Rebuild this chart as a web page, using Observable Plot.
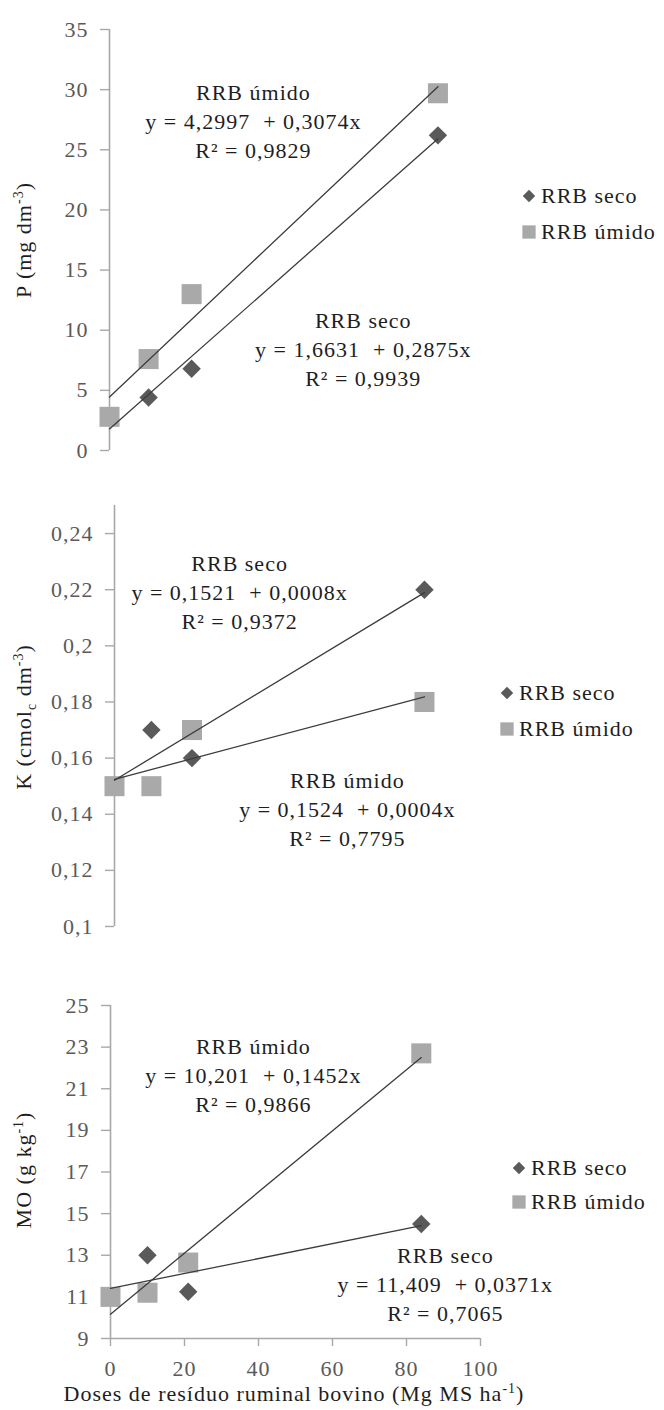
<!DOCTYPE html>
<html><head><meta charset="utf-8">
<script src="https://cdn.jsdelivr.net/npm/d3@7"></script>
<script src="https://cdn.jsdelivr.net/npm/@observablehq/plot@0.6"></script>
<style>
html,body{margin:0;padding:0;background:#fff;}
#chart{position:relative;width:664px;height:1410px;overflow:hidden;}
#chart svg{position:absolute;left:0;}
#chart svg text, #chart svg tspan{white-space:pre;font-family:"Liberation Serif","Times New Roman","DejaVu Serif",serif !important;}
</style></head><body><div id="chart"></div>
<script>
// ---- data ----
const doses = [0, 10, 21, 84];
const seriesNames = ["RRB seco", "RRB úmido"];
const pSeco = [2.8, 4.4, 6.8, 26.2];
const pUmido = [2.8, 7.6, 13.0, 29.7];
const kSeco = [0.15, 0.17, 0.16, 0.22];
const kUmido = [0.15, 0.15, 0.17, 0.18];
const moSeco = [11.0, 13.0, 11.25, 14.5];
const moUmido = [11.0, 11.2, 12.65, 22.7];
const pTicks = [0, 5, 10, 15, 20, 25, 30, 35];
const pTickLabels = ["0", "5", "10", "15", "20", "25", "30", "35"];
const kTicks = [0.1, 0.12, 0.14, 0.16, 0.18, 0.2, 0.22, 0.24];
const kTickLabels = ["0,1", "0,12", "0,14", "0,16", "0,18", "0,2", "0,22", "0,24"];
const moTicks = [9, 11, 13, 15, 17, 19, 21, 23, 25];
const moTickLabels = ["9", "11", "13", "15", "17", "19", "21", "23", "25"];
const xTicks = [0, 20, 40, 60, 80, 100];
const xTickLabels = ["0", "20", "40", "60", "80", "100"];
const pAnnots = [
  {x: 36.8, y: 27.5, text: "RRB úmido\ny = 4,2997  + 0,3074x\nR² = 0,9829"},
  {x: 64.9, y: 8.56, text: "RRB seco\ny = 1,6631  + 0,2875x\nR² = 0,9939"}
];
const kAnnots = [
  {x: 33.9, y: 0.2197, text: "RRB seco\ny = 0,1521  + 0,0008x\nR² = 0,9372"},
  {x: 63.1, y: 0.1424, text: "RRB úmido\ny = 0,1524  + 0,0004x\nR² = 0,7795"}
];
const moAnnots = [
  {x: 38.6, y: 21.74, text: "RRB úmido\ny = 10,201  + 0,1452x\nR² = 0,9866"},
  {x: 90.5, y: 11.69, text: "RRB seco\ny = 11,409  + 0,0371x\nR² = 0,7065"}
];

// ---- styles ----
const FONT = '"Liberation Serif", "Times New Roman", "DejaVu Serif", serif';
const axisColor = "#a8a8a8";
const tickColor = "#5a5a5a";
const textColor = "#1e1e1e";
const darkFill = "#5a5a5a";
const lightFill = "#a9a9a9";
const lineColor = "#3c3c3c";

function rows(vals, name) { return doses.map((d, i) => ({x: d, y: vals[i], s: name})); }

function panel(cfg) {
  const seco = rows(cfg.seco, seriesNames[0]);
  const um = rows(cfg.umido, seriesNames[1]);
  const yMap = new Map(cfg.yTicks.map((t, i) => [t, cfg.yLabels[i]]));
  const marks = [
    Plot.ruleX([0], {y1: cfg.yDomain[0], y2: cfg.yDomain[1], stroke: axisColor, strokeWidth: 1.6}),
    Plot.axisY(cfg.yTicks, {anchor: "left", tickSize: 9, tickPadding: 12, tickFormat: d => yMap.get(d),
      stroke: axisColor, strokeWidth: 1.4, fill: tickColor, fontSize: 22, fontFamily: FONT, label: null}),
    Plot.dot(seco, {x: "x", y: "y", symbol: "diamond2", r: 8.3, fill: darkFill, stroke: "none"}),
    Plot.dot(um, {x: "x", y: "y", symbol: "square", r: 11.3, fill: lightFill, stroke: "none"}),
    Plot.linearRegressionY(seco, {x: "x", y: "y", ci: 0, stroke: lineColor, strokeWidth: 1.3}),
    Plot.linearRegressionY(um, {x: "x", y: "y", ci: 0, stroke: lineColor, strokeWidth: 1.3}),
    Plot.text(cfg.annots, {x: "x", y: "y", text: "text", lineAnchor: "middle", lineHeight: 1.32,
      fontSize: 22, fontFamily: FONT, fill: textColor})
  ];
  if (cfg.xAxis) {
    const xMap = new Map(xTicks.map((t, i) => [t, xTickLabels[i]]));
    marks.unshift(Plot.ruleY([cfg.yDomain[0]], {x1: 0, x2: 100, stroke: axisColor, strokeWidth: 1.6}));
    marks.push(Plot.axisX(xTicks, {anchor: "bottom", tickSize: 8, tickPadding: 14, tickFormat: d => xMap.get(d),
      stroke: axisColor, strokeWidth: 1.4, fill: tickColor, fontSize: 22, fontFamily: FONT, label: null}));
  }
  const svg = Plot.plot({
    width: 664, height: 470,
    marginLeft: cfg.xRange[0], marginRight: 664 - cfg.xRange[1],
    marginTop: cfg.yRange[1], marginBottom: 470 - cfg.yRange[0],
    style: {fontFamily: FONT, fontSize: "22px", letterSpacing: "1px", background: "white", overflow: "visible"},
    x: {domain: [0, 100], range: cfg.xRange, axis: cfg.xAxis ? undefined : null},
    y: {domain: cfg.yDomain, range: cfg.yRange},
    marks
  });
  svg.style.top = cfg.top + "px";
  const s = d3.select(svg);
  // y title
  const t = s.append("text")
    .attr("transform", `translate(31,${cfg.titleY}) rotate(-90)`)
    .attr("text-anchor", "middle").attr("font-family", FONT).attr("font-size", 22)
    .attr("fill", textColor);
  cfg.title.forEach(part => {
    const ts = t.append("tspan").text(part.t);
    if (part.sup) ts.attr("font-size", 14).attr("dy", -8);
    if (part.sub) ts.attr("font-size", 14).attr("dy", 5);
    if (part.reset) ts.attr("dy", part.reset);
  });
  // legend
  const L = cfg.legend;
  const lg = s.append("g").attr("font-family", FONT).attr("font-size", 22).attr("fill", textColor)
    .attr("text-anchor", "start");
  lg.append("path").attr("transform", `translate(${L.mx},${L.y1})`)
    .attr("d", d3.symbol(d3.symbolDiamond2, Math.PI * 5.6 * 5.6)()).attr("fill", darkFill);
  lg.append("path").attr("transform", `translate(${L.mx},${L.y2})`)
    .attr("d", d3.symbol(d3.symbolSquare, Math.PI * 7.5 * 7.5)()).attr("fill", lightFill);
  lg.append("text").attr("x", L.tx).attr("y", L.y1).attr("dy", "0.34em").attr("text-anchor", "start").text(seriesNames[0]);
  lg.append("text").attr("x", L.tx).attr("y", L.y2).attr("dy", "0.34em").attr("text-anchor", "start").text(seriesNames[1]);
  if (cfg.xTitle) {
    const xt = s.append("text").attr("x", 294).attr("y", 461).attr("text-anchor", "middle")
      .attr("font-family", FONT).attr("font-size", 22).attr("fill", textColor);
    cfg.xTitle.forEach(part => {
      const ts = xt.append("tspan").text(part.t);
      if (part.sup) ts.attr("font-size", 14).attr("dy", -8);
      if (part.reset) ts.attr("dy", part.reset);
    });
  }
  document.getElementById("chart").appendChild(svg);
}

panel({top: 0, seco: pSeco, umido: pUmido, yDomain: [0, 35], yRange: [450, 29], xRange: [109, 500],
  yTicks: pTicks, yLabels: pTickLabels, annots: pAnnots, titleY: 240,
  title: [{t: "P (mg dm"}, {t: "-3", sup: true}, {t: ")", reset: 8}],
  legend: {mx: 529, tx: 541, y1: 196, y2: 232}});
panel({top: 470, seco: kSeco, umido: kUmido, yDomain: [0.1, 0.25], yRange: [456, 35], xRange: [114, 483],
  yTicks: kTicks, yLabels: kTickLabels, annots: kAnnots, titleY: 247,
  title: [{t: "K (cmol"}, {t: "c", sub: true}, {t: " dm", reset: -5}, {t: "-3", sup: true}, {t: ")", reset: 8}],
  legend: {mx: 507, tx: 519, y1: 223, y2: 259}});
panel({top: 940, seco: moSeco, umido: moUmido, yDomain: [9, 25], yRange: [398, 65], xRange: [110, 480],
  yTicks: moTicks, yLabels: moTickLabels, annots: moAnnots, titleY: 230, xAxis: true,
  title: [{t: "MO (g kg"}, {t: "-1", sup: true}, {t: ")", reset: 8}],
  xTitle: [{t: "Doses de resíduo ruminal bovino (Mg MS ha"}, {t: "-1", sup: true}, {t: ")", reset: 8}],
  legend: {mx: 519, tx: 531, y1: 228, y2: 262}});
</script></body></html>
